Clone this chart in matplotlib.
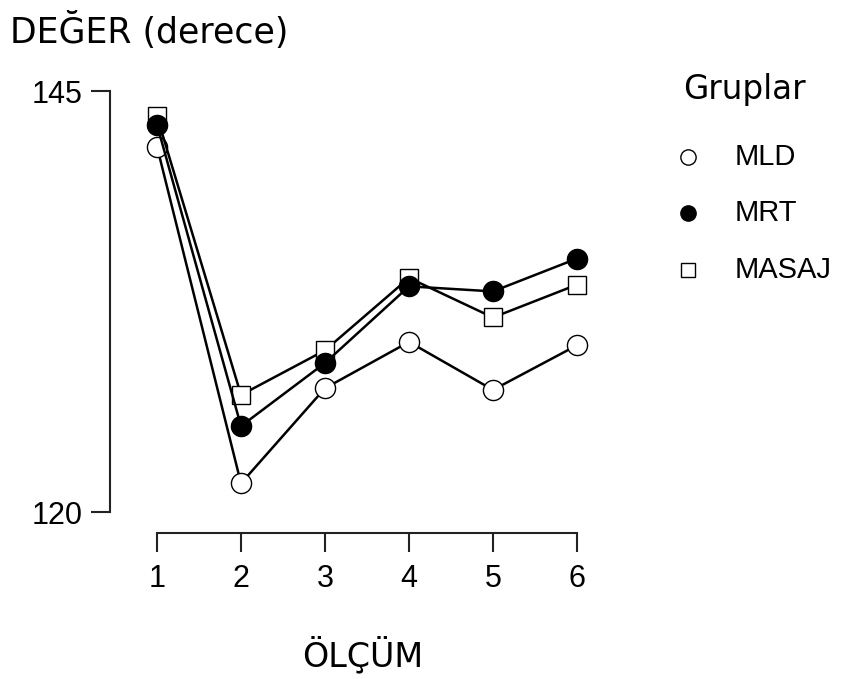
import matplotlib
matplotlib.use("Agg")
import matplotlib.pyplot as plt
from matplotlib.lines import Line2D

olcum = [1, 2, 3, 4, 5, 6]
mld = [141.7, 121.7, 127.35, 130.1, 127.25, 129.9]
mrt = [143.0, 125.1, 128.85, 133.4, 133.1, 135.05]
masaj = [143.5, 126.95, 129.6, 133.9, 131.55, 133.5]
y_ticks = [120, 145]
groups = ["MLD", "MRT", "MASAJ"]

plt.rcParams['font.family'] = ['DejaVu Sans']
W, H = 846, 679
fig = plt.figure(figsize=(W / 100, H / 100), dpi=100)

left_px, right_px, top_px, bot_px = 110, 600, 91, 533
ax = fig.add_axes([left_px / W, 1 - bot_px / H, (right_px - left_px) / W, (bot_px - top_px) / H])

x_per_px = 1 / 84.0
y_per_px = 25 / 421.0
ax.set_xlim(1 - (157 - left_px) * x_per_px, 1 + (right_px - 157) * x_per_px)
ax.set_ylim(120 - (bot_px - 512) * y_per_px, 145)

lw = 1.8
ax.plot(olcum, mld, color='black', lw=lw, marker='o', ms=14.5, mfc='white', mec='black', mew=1.0, zorder=3, clip_on=False)
ax.plot(olcum, masaj, color='black', lw=lw, marker='s', ms=12.5, mfc='white', mec='black', mew=1.0, zorder=4, clip_on=False)
ax.plot(olcum, mrt, color='black', lw=lw, marker='o', ms=14.5, mfc='black', mec='black', mew=1.0, zorder=5, clip_on=False)

for s in ['top', 'right']:
    ax.spines[s].set_visible(False)
ax.spines['left'].set_bounds(120, 145)
ax.spines['bottom'].set_bounds(1, 6)
for s in ['left', 'bottom']:
    ax.spines[s].set_linewidth(1.5)
    ax.spines[s].set_color('#222222')

ax.set_yticks(y_ticks)
ax.set_yticklabels([str(v) for v in y_ticks])
ax.set_xticks(olcum)
ax.set_xticklabels([str(v) for v in olcum])
ax.tick_params(axis='both', length=14, width=1.5, color='#222222', labelsize=22, pad=6)
ax.tick_params(axis='x', pad=8)
for lab in ax.get_xticklabels() + ax.get_yticklabels():
    lab.set_family(['Liberation Sans', 'DejaVu Sans'])

fig.text(10 / W, 1 - 31 / H, "DEĞER (derece)", fontsize=25, va='center', ha='left')
fig.text(363 / W, 1 - 655 / H, "ÖLÇÜM", fontsize=24, va='center', ha='center')

fig.text(683 / W, 1 - 90 / H, "Gruplar", fontsize=23.5, va='center', ha='left')
leg_y = [157, 213, 270]
styles = [dict(marker='o', mfc='white'), dict(marker='o', mfc='black'), dict(marker='s', mfc='white')]
for name, yy, st in zip(groups, leg_y, styles):
    fig.add_artist(Line2D([688 / W], [1 - yy / H], transform=fig.transFigure, linestyle='none',
                          marker=st['marker'], ms=11 if st['marker'] == 'o' else 9.5,
                          mfc=st['mfc'], mec='black', mew=1.0))
    fig.text(735 / W, 1 - yy / H, name, fontsize=21, va='center', ha='left',
             family=['Liberation Sans', 'DejaVu Sans'])

fig.savefig("out.png", dpi=100)
